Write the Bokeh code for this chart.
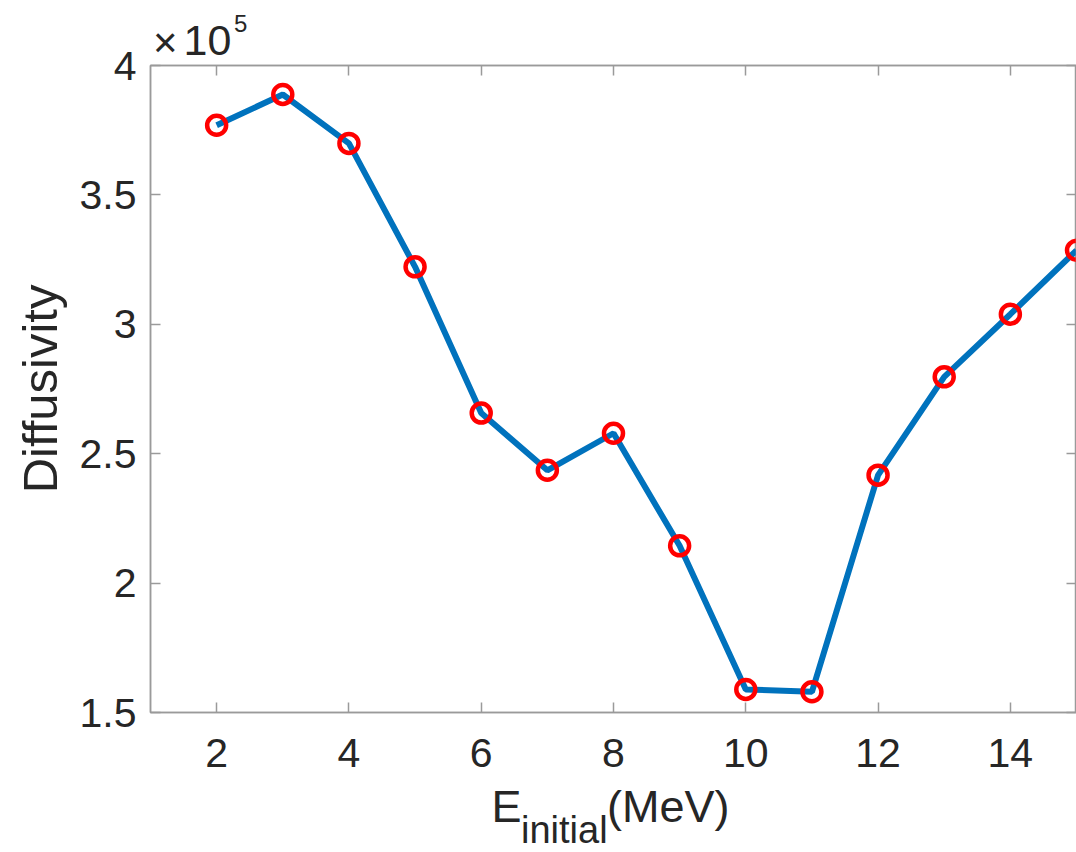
from bokeh.embed import file_html
from bokeh.layouts import column
from bokeh.models import CustomLabelingPolicy, Div, FixedTicker, LinearAxis
from bokeh.plotting import figure
from bokeh.resources import INLINE

# Initial energy (MeV) and diffusivity (in units of 1e5)
e_initial = [2, 3, 4, 5, 6, 7, 8, 9, 10, 11, 12, 13, 14, 15]
diffusivity_1e5 = [3.769, 3.888, 3.699, 3.222, 2.657, 2.436, 2.579,
                   2.144, 1.589, 1.580, 2.417, 2.797, 3.039, 3.286]

x_ticks = [2, 4, 6, 8, 10, 12, 14]
y_ticks = [1.5, 2, 2.5, 3, 3.5, 4]
y_tick_labels = ["1.5", "2", "2.5", "3", "3.5", "4"]

FONT = "Liberation Sans"
TEXT = "#262626"
AXIS = "#9a9a9a"
BLUE = "#0072BD"
RED = "#FF0000"
W = 1076
TOP_H = 44
BOTTOM_H = 68

p = figure(
    width=W, height=852 - TOP_H - BOTTOM_H,
    x_range=(1, 15), y_range=(1.5, 4),
    output_backend="svg", toolbar_location=None,
    min_border_left=150, min_border_right=0,
    min_border_top=65 - TOP_H, min_border_bottom=72,
    background_fill_color="white", border_fill_color=None,
    margin=0,
)
p.xgrid.visible = False
p.ygrid.visible = False
p.outline_line_color = AXIS
p.outline_line_width = 1.5

# top and right axes carry tick marks only
no_labels = CustomLabelingPolicy(code="return new Set()")


def style_axis(ax, ticks, show_labels):
    ax.ticker = FixedTicker(ticks=ticks)
    ax.axis_line_color = AXIS
    ax.axis_line_width = 1.5
    ax.major_tick_line_color = AXIS
    ax.major_tick_line_width = 1.5
    ax.major_tick_in = 10
    ax.major_tick_out = 0
    ax.minor_tick_in = 0
    ax.minor_tick_out = 0
    ax.minor_tick_line_color = None
    if show_labels:
        ax.major_label_text_font = FONT
        ax.major_label_text_font_size = "41px"
        ax.major_label_text_color = TEXT
    else:
        ax.major_label_text_font_size = "0px"
        ax.major_label_standoff = 0
        ax.major_label_policy = no_labels


style_axis(p.xaxis[0], x_ticks, True)
p.xaxis[0].major_label_standoff = 26
style_axis(p.yaxis[0], y_ticks, True)
p.yaxis[0].major_label_standoff = 14
p.yaxis[0].major_label_overrides = {t: s for t, s in zip(y_ticks, y_tick_labels)}

# y axis title
p.yaxis[0].axis_label = "Diffusivity"
p.yaxis[0].axis_label_text_font = FONT
p.yaxis[0].axis_label_text_font_size = "49px"
p.yaxis[0].axis_label_text_font_style = "normal"
p.yaxis[0].axis_label_text_color = TEXT
p.yaxis[0].axis_label_standoff = 10

top_axis = LinearAxis()
style_axis(top_axis, x_ticks, False)
p.add_layout(top_axis, "above")
right_axis = LinearAxis()
style_axis(right_axis, y_ticks, False)
p.add_layout(right_axis, "right")

# Curve with hollow circle markers
p.line(e_initial, diffusivity_1e5, line_color=BLUE, line_width=6)
p.scatter(e_initial, diffusivity_1e5, marker="circle", size=19,
          fill_color=None, line_color=RED, line_width=4.5)


def span(text, left, baseline, size):
    # absolutely placed run of text; with line-height 0.85 the baseline sits ~0.7715em below the top
    top = baseline - 0.7715 * size
    return (f'<span style="position:absolute; left:{left:.1f}px; top:{top:.1f}px; '
            f'font-size:{size}px; line-height:0.85; white-space:nowrap;">{text}</span>')


def text_strip(height, runs):
    html = (f'<div style="position:relative; width:{W}px; height:{height}px; '
            f"font-family:'{FONT}'; color:{TEXT}; overflow:visible;\">"
            + "".join(runs) + "</div>")
    return Div(text=html, width=W, height=height, margin=0,
               styles={"overflow": "visible"})


# Exponent multiplier (x10^5) above the y axis
top_strip = text_strip(TOP_H, [
    span("\u00d7", 153, 57, 42),
    span("10", 183.5, 55, 43),
    span("5", 234, 32, 24),
])

# x axis title E_initial(MeV)
bottom_strip = text_strip(BOTTOM_H, [
    span("E", 491.5, 39, 45),
    span("initial", 521, 59.5, 38),
    span("(MeV)", 607, 39, 45),
])

layout = column(top_strip, p, bottom_strip, spacing=0, margin=0)

open("out.html", "w").write(file_html(layout, INLINE))
